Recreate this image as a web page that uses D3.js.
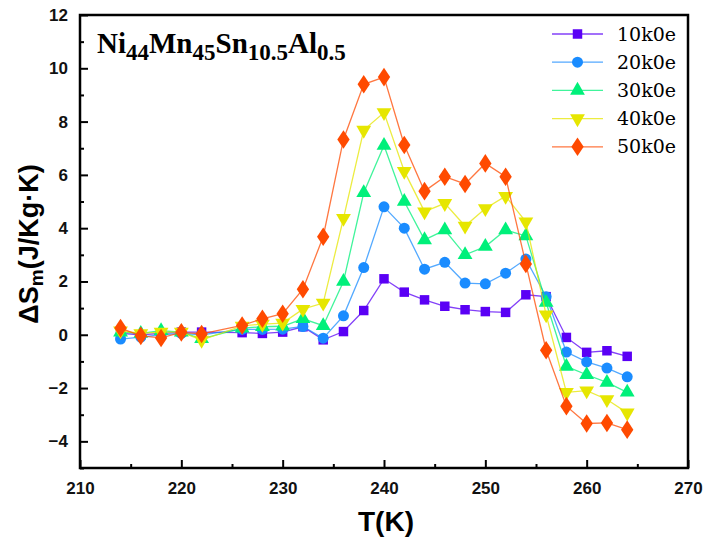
<!DOCTYPE html>
<html><head><meta charset="utf-8">
<script src="https://cdn.jsdelivr.net/npm/d3@7"></script>
<style>body{margin:0;background:#fff}</style>
</head><body>
<svg id="c" width="703" height="538"></svg>
<script>
const temps = [214,216,218,220,222,226,228,230,232,234,236,238,240,242,244,246,248,250,252,254,256,258,260,262,264];
const s10 = [0.05,0.0,0.05,0.1,0.1,0.08,0.05,0.1,0.3,-0.19,0.12,0.91,2.1,1.6,1.31,1.07,0.94,0.87,0.84,1.5,1.43,-0.1,-0.66,-0.6,-0.81];
const s20 = [-0.16,-0.09,0.0,0.05,0.0,0.2,0.2,0.21,0.31,-0.13,0.71,2.52,4.8,4.0,2.46,2.72,1.94,1.91,2.31,2.84,1.43,-0.65,-1.02,-1.25,-1.58];
const s30 = [0.1,0.05,0.15,0.1,-0.15,0.25,0.3,0.32,0.6,0.34,2.0,5.33,7.1,5.0,3.56,3.93,3.0,3.31,3.93,3.71,1.21,-1.19,-1.5,-1.79,-2.16];
const s40 = [0.15,0.05,0.1,0.1,-0.2,0.33,0.4,0.44,0.96,1.19,4.37,7.68,8.34,6.14,4.62,4.93,4.08,4.74,5.2,4.24,0.75,-2.16,-2.1,-2.43,-2.93];
const s50 = [0.25,-0.04,-0.12,0.09,0.03,0.35,0.6,0.79,1.71,3.68,7.33,9.4,9.67,7.12,5.39,5.93,5.66,6.43,5.93,2.66,-0.58,-2.68,-3.33,-3.31,-3.56];
const seriesNames = ["10k0e","20k0e","30k0e","40k0e","50k0e"];
const seriesColors = ["#5a00f5","#1a8cff","#00f07a","#e6e600","#ff4a00"];
const seriesShapes = ["square","circle","triangle","down","diamond"];
const xTicks = [210,220,230,240,250,260,270];
const yTicks = [-4,-2,0,2,4,6,8,10,12];

const series = [s10,s20,s30,s40,s50];
const svg = d3.select("#c");
const L=80,R=688,T=15,B=468;
const x = d3.scaleLinear().domain([210,270]).range([L,R]);
const y = d3.scaleLinear().domain([-5,12]).range([B,T]);
const tickFont = "'Liberation Sans',Arial,sans-serif";

const gx = svg.append("g").attr("transform",`translate(0,${B})`)
  .call(d3.axisBottom(x).tickValues(xTicks).tickSize(-8).tickPadding(14).tickFormat(d3.format("d")));
const gxm = svg.append("g").attr("transform",`translate(0,${B})`)
  .call(d3.axisBottom(x).tickValues(d3.range(215,270,10)).tickSize(-4).tickFormat(""));
const gy = svg.append("g").attr("transform",`translate(${L},0)`)
  .call(d3.axisLeft(y).tickValues(yTicks).tickSize(-8).tickPadding(12).tickFormat(d=>d<0?"\u2212"+(-d):d));
const gym = svg.append("g").attr("transform",`translate(${L},0)`)
  .call(d3.axisLeft(y).tickValues(d3.range(-5,12,2)).tickSize(-4).tickFormat(""));
[gx,gxm,gy,gym].forEach(g=>{
  g.select(".domain").remove();
  g.selectAll(".tick line").attr("stroke","#000").attr("stroke-width",2);
  g.selectAll(".tick text").attr("font-family",tickFont).attr("font-size",17).attr("font-weight","bold").attr("fill","#111");
});
svg.append("rect").attr("x",L).attr("y",T).attr("width",R-L).attr("height",B-T)
  .attr("fill","none").attr("stroke","#000").attr("stroke-width",2.5);

function sym(shape){
  const size = {square:90,circle:95,triangle:95,down:95,diamond:100}[shape];
  if(shape==="down") return d3.symbol().type(d3.symbolTriangle).size(size)();
  const t = {square:d3.symbolSquare,circle:d3.symbolCircle,triangle:d3.symbolTriangle,diamond:d3.symbolDiamond}[shape];
  return d3.symbol().type(t).size(size)();
}
function placeMarker(g, shape, cx, cy, color){
  let tr = `translate(${cx},${cy})`;
  if(shape==="down") tr += " rotate(180)";
  if(shape==="diamond") tr += " scale(1.15,1)";
  g.append("path").attr("d",sym(shape)).attr("transform",tr).attr("fill",color);
}

const line = d3.line().x((d,i)=>x(temps[i])).y(d=>y(d));
series.forEach((s,k)=>{
  const g = svg.append("g");
  g.append("path").attr("d",line(s)).attr("fill","none").attr("stroke",seriesColors[k]).attr("stroke-width",1.3).attr("stroke-opacity",0.75);
  s.forEach((v,i)=>placeMarker(g, seriesShapes[k], x(temps[i]), y(v), seriesColors[k]));
});

seriesNames.forEach((n,k)=>{
  const yy = 34 + k*28.2;
  svg.append("line").attr("x1",552).attr("x2",603).attr("y1",yy).attr("y2",yy)
    .attr("stroke",seriesColors[k]).attr("stroke-width",1.3).attr("stroke-opacity",0.75);
  placeMarker(svg, seriesShapes[k], 577.5, yy, seriesColors[k]);
  svg.append("text").attr("x",617).attr("y",yy+6.5).text(n)
    .attr("font-family","'DejaVu Serif','Liberation Serif',serif").attr("font-size",19).attr("fill","#000");
});

const tt = svg.append("text").attr("x",97).attr("y",53)
  .attr("font-family","'Liberation Serif','Times New Roman',serif").attr("font-weight","bold").attr("font-size",29);
[["Ni",""],["44","s"],["Mn",""],["45","s"],["Sn",""],["10.5","s"],["Al",""],["0.5","s"]].forEach(([t,m],i)=>{
  const sp = tt.append("tspan").text(t);
  if(m==="s"){ sp.attr("font-size",23).attr("dy",7); }
  else if(i>0){ sp.attr("dy",-7); }
});

svg.append("text").attr("x",386).attr("y",531).attr("text-anchor","middle")
  .attr("font-family",tickFont).attr("font-weight","bold").attr("font-size",28).text("T(K)");
const yt = svg.append("text").attr("transform","translate(38,244) rotate(-90)").attr("text-anchor","middle")
  .attr("font-family",tickFont).attr("font-weight","bold").attr("font-size",27);
yt.append("tspan").text("ΔS");
yt.append("tspan").text("m").attr("font-size",19).attr("dy",5);
yt.append("tspan").text("(J/Kg·K)").attr("dy",-5);
</script>
</body></html>
